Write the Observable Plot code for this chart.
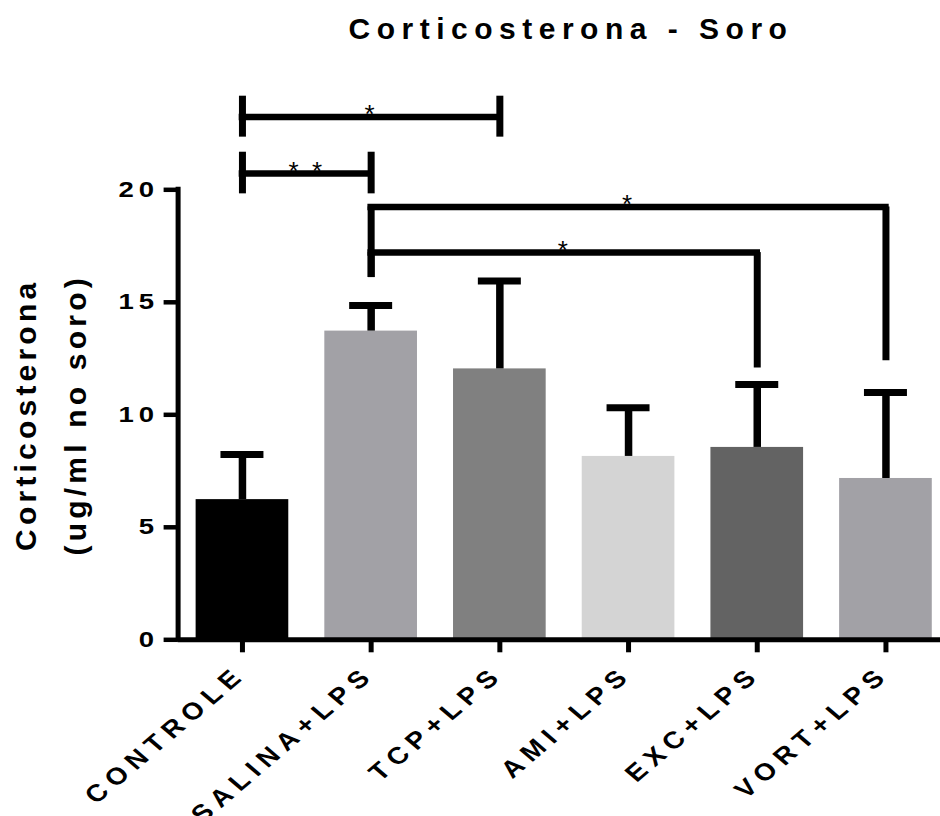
<!DOCTYPE html>
<html>
<head>
<meta charset="utf-8">
<script src="https://cdn.jsdelivr.net/npm/d3@7"></script>
<script src="https://cdn.jsdelivr.net/npm/@observablehq/plot@0.6"></script>
<style>
  body { margin: 0; background: #fff; font-family: "Liberation Sans", Arial, sans-serif; }
  #title { width: 940px; height: 50px; line-height: 58px; box-sizing: border-box; padding-left: 202px;
           text-align: center; font-size: 30px; font-weight: bold; letter-spacing: 6.5px; white-space: nowrap; color: #000; }
  g[aria-description="xlabels"] { letter-spacing: 6px; }
  g[aria-description="ylabel"] { letter-spacing: 4.2px; }
  g[aria-description="yticks"], g[aria-label="y-axis tick label"] { letter-spacing: 4px; }
  g[aria-description="stars"] { letter-spacing: 3px; }
</style>
</head>
<body>
<div id="title">Corticosterona - Soro</div>
<div id="chart"></div>
<script>
// ---- data ----
const categories = ["CONTROLE", "SALINA+LPS", "TCP+LPS", "AMI+LPS", "EXC+LPS", "VORT+LPS"];
const means      = [6.23, 13.72, 12.04, 8.15, 8.55, 7.17];
const errTops    = [8.24, 14.86, 15.95, 10.31, 11.35, 10.99];
const barColors  = ["#000000", "#a2a1a6", "#808080", "#d4d4d4", "#636363", "#a2a1a6"];
const yTicks     = [0, 5, 10, 15, 20];
const yLabel     = "Corticosterona\n(ug/ml no soro)";

// significance brackets (category indices and values in y units)
const bracketFrom      = [0, 0, 1, 1];
const bracketTo        = [2, 1, 5, 4];
const bracketY         = [23.24, 20.72, 19.24, 17.21];
const bracketLeftLow   = [22.34, 19.82, 16.1, 16.1];
const bracketLeftHigh  = [24.16, 21.67, 19.24, 17.21];
const bracketRightLow  = [22.34, 19.82, 12.4, 12.08];
const bracketRightHigh = [24.16, 21.67, 19.24, 17.21];
const bracketStars     = ["*", "* *", "*", "*"];

const idx = categories.map((_, i) => i);
const bIdx = bracketFrom.map((_, i) => i);
const halfBar = 0.36, halfCap = 0.167;

const W = 940, H = 766;
const plot = Plot.plot({
  width: W,
  height: H,
  marginLeft: 177.6,
  marginBottom: H - 589.3,
  marginTop: 10,
  marginRight: 0,
  style: { fontFamily: "'Liberation Sans', Arial, sans-serif", color: "#000", background: "#fff" },
  x: { type: "linear", domain: [-0.5, 5.5], range: [177.6, 949.8] },
  y: { type: "linear", domain: [0, 20], range: [589.3, 139.3], label: null },
  color: { type: "identity" },
  marks: [
    Plot.rectY(idx, { x1: i => i - halfBar, x2: i => i + halfBar, y1: 0, y2: i => means[i], fill: i => barColors[i] }),
    // error bars
    Plot.ruleX(idx, { x: i => i, y1: i => means[i], y2: i => errTops[i], stroke: "#000", strokeWidth: 7.5 }),
    Plot.ruleY(idx, { y: i => errTops[i], x1: i => i - halfCap, x2: i => i + halfCap, stroke: "#000", strokeWidth: 7 }),
    // axes
    Plot.ruleX([-0.5], { x: d => d, y1: 0, y2: 20, stroke: "#000", strokeWidth: 5, strokeLinecap: "square" }),
    Plot.ruleY([0], { y: d => d, x1: -0.5, x2: 5.5, stroke: "#000", strokeWidth: 5 }),
    Plot.axisY({ ticks: yTicks, tickSize: 14, tickPadding: 5, tickFormat: d => String(d), fontSize: 22, fontWeight: "bold",
                 strokeWidth: 4.5, label: null, ariaDescription: "yticks" }),
    Plot.axisX({ ticks: idx, tickSize: 13, tickFormat: () => "", strokeWidth: 5, label: null }),
    Plot.text(idx, { x: i => i, y: 0, text: i => categories[i], rotate: -45, textAnchor: "end", lineAnchor: "bottom",
                     dx: 5, dy: 36, fontSize: 24, fontWeight: "bold", ariaDescription: "xlabels" }),
    Plot.text([yLabel], { frameAnchor: "left", y: 10, text: d => d, rotate: -90, textAnchor: "middle", dx: -133.6,
                          fontSize: 30, fontWeight: "bold", lineHeight: 1.667, ariaDescription: "ylabel" }),
    // significance brackets
    Plot.ruleY(bIdx, { y: i => bracketY[i], x1: i => bracketFrom[i], x2: i => bracketTo[i], stroke: "#000", strokeWidth: 6.5, strokeLinecap: "square" }),
    Plot.ruleX(bIdx, { x: i => bracketFrom[i], y1: i => bracketLeftLow[i], y2: i => bracketLeftHigh[i], stroke: "#000", strokeWidth: 7 }),
    Plot.ruleX(bIdx, { x: i => bracketTo[i], y1: i => bracketRightLow[i], y2: i => bracketRightHigh[i], stroke: "#000", strokeWidth: 7 }),
    Plot.text(bIdx, { x: i => (bracketFrom[i] + bracketTo[i]) / 2, y: i => bracketY[i], text: i => bracketStars[i],
                      lineAnchor: "bottom", dy: 6, fontSize: 26, ariaDescription: "stars" })
  ]
});

// the reference's lettering is horizontally widened; reproduce with a scaleX on the glyphs
function widen(selector, sx) {
  d3.select(plot).selectAll(selector).each(function () {
    const t = this.getAttribute("transform");
    if (t && /^translate\([^)]*\)/.test(t)) {
      this.setAttribute("transform", t.replace(/^(translate\([^)]*\))/, `$1 scale(${sx},1)`));
    } else {
      const x = +(this.getAttribute("x") || 0), y = +(this.getAttribute("y") || 0);
      this.removeAttribute("x"); this.removeAttribute("y");
      this.setAttribute("transform", `translate(${x},${y}) scale(${sx},1)` + (t ? " " + t : ""));
    }
  });
}
widen('g[aria-description="xlabels"] > text', 1.17);
widen('g[aria-label="y-axis tick label"] > text', 1.25);
document.getElementById("chart").appendChild(plot);
</script>
</body>
</html>
